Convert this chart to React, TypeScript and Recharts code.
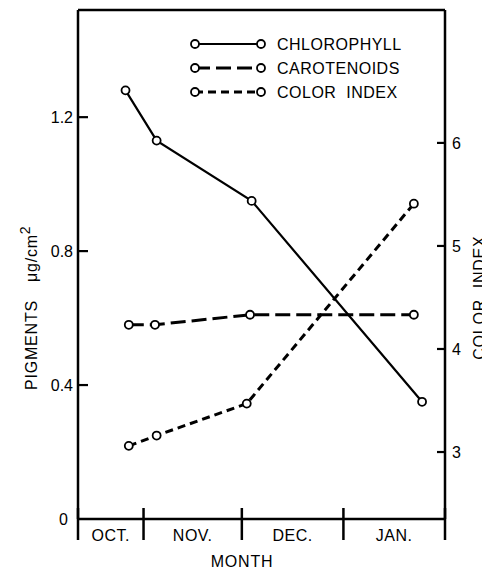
import React from 'react';
import { LineChart, Line, XAxis, YAxis, Legend } from 'recharts';

// x values are days counted from Oct 12 (start of the plotted season)
const monthBoundaries = [0, 20, 50, 81, 112];
const monthCenters = [10, 35, 65.5, 96.5];
const monthLabels = ['OCT.', 'NOV.', 'DEC.', 'JAN.'];

const chlorophyllDays = [14.5, 24, 53, 105];
const chlorophyllValues = [1.28, 1.13, 0.95, 0.35];
const carotenoidDays = [15.5, 23.5, 52.5, 102.5];
const carotenoidValues = [0.58, 0.58, 0.61, 0.61];
const colorIndexDays = [15.5, 24, 51.5, 102.5];
const colorIndexValues = [3.06, 3.16, 3.47, 5.41];

const leftTicks = [0, 0.4, 0.8, 1.2];
const rightTicks = [3, 4, 5, 6];

const seriesNames = ['CHLOROPHYLL', 'CAROTENOIDS', 'COLOR  INDEX'];
const seriesDash = ['none', '15 6', '8 5'];

const FONT = '"Liberation Sans", Arial, sans-serif';

const zip = (xs: number[], ys: number[]) => xs.map((x, i) => ({ x, v: ys[i] }));
const chlorophyllData = zip(chlorophyllDays, chlorophyllValues);
const carotenoidData = zip(carotenoidDays, carotenoidValues);
const colorIndexData = zip(colorIndexDays, colorIndexValues);

const dotStyle = { r: 4, stroke: '#000', strokeWidth: 1.8, fill: '#fff', strokeDasharray: 'none' };

const BoundaryTick = (props: any) => {
  const { x, y } = props;
  return <line x1={x} x2={x} y1={y - 11} y2={y + 21} stroke="#000" strokeWidth={2.5} />;
};

const MonthTick = (props: any) => {
  const { x, y, payload } = props;
  const idx = monthCenters.indexOf(payload.value);
  return (
    <text x={x} y={y + 21} textAnchor="middle" fontFamily={FONT} fontSize={16} letterSpacing={0.5} fill="#000">
      {monthLabels[idx]}
    </text>
  );
};

const LeftTick = (props: any) => {
  const { x, y, payload } = props;
  const v = payload.value;
  return (
    <g>
      {v !== 0 && <line x1={x} x2={x + 10} y1={y} y2={y} stroke="#000" strokeWidth={2.2} />}
      <text x={v === 0 ? x - 10 : x - 5} y={y} dy="0.36em" textAnchor="end" fontFamily={FONT} fontSize={16} fill="#000">
        {v === 0 ? '0' : v.toFixed(1)}
      </text>
    </g>
  );
};

const RightTick = (props: any) => {
  const { x, y, payload } = props;
  return (
    <g>
      <line x1={x - 8} x2={x} y1={y} y2={y} stroke="#000" strokeWidth={2.2} />
      <text x={x + 7} y={y} dy="0.36em" textAnchor="start" fontFamily={FONT} fontSize={16} fill="#000">
        {payload.value}
      </text>
    </g>
  );
};

const LegendBox = () => (
  <svg width={260} height={80} style={{ display: 'block' }}>
    {seriesNames.map((name, i) => {
      const cy = 14 + i * 24;
      return (
        <g key={name}>
          <line x1={15} x2={81} y1={cy} y2={cy} stroke="#000" strokeWidth={i === 0 ? 2.2 : 3}
            strokeDasharray={seriesDash[i]} />
          <circle cx={15} cy={cy} r={4} fill="#fff" stroke="#000" strokeWidth={1.8} />
          <circle cx={81} cy={cy} r={4} fill="#fff" stroke="#000" strokeWidth={1.8} />
          <text x={97} y={cy} dy="0.36em" fontFamily={FONT} fontSize={16} letterSpacing={0.5} fill="#000"
            style={{ whiteSpace: 'pre' }}>
            {name}
          </text>
        </g>
      );
    })}
  </svg>
);

export default function App() {
  return (
    <div style={{ position: 'absolute', left: 0, top: 0, width: 482, height: 571, background: '#fff' }}>
      <LineChart width={482} height={571} margin={{ top: 9, right: 0, bottom: 50, left: 0 }}>
        <XAxis xAxisId="b" type="number" dataKey="x" domain={[0, 112]} allowDataOverflow ticks={monthBoundaries}
          interval={0} height={1} tickSize={0} tickMargin={0} tickLine={false}
          axisLine={{ stroke: '#000', strokeWidth: 2.5 }} tick={<BoundaryTick />} />
        <XAxis xAxisId="m" type="number" dataKey="x" domain={[0, 112]} allowDataOverflow ticks={monthCenters}
          interval={0} height={1} tickSize={0} tickMargin={0} tickLine={false} axisLine={false}
          tick={<MonthTick />}
          label={{
            content: (p: any) => {
              const vb = p.viewBox || { x: 78, y: 519, width: 367 };
              return (
                <text x={vb.x + vb.width * 0.447} y={vb.y + 47} textAnchor="middle" fontFamily={FONT}
                  fontSize={16} letterSpacing={0.8} fill="#000">MONTH</text>
              );
            },
          }} />
        <XAxis xAxisId="t" orientation="top" type="number" dataKey="x" domain={[0, 112]} allowDataOverflow
          height={1} tick={false} tickLine={false} axisLine={{ stroke: '#000', strokeWidth: 2.5 }} />
        <YAxis yAxisId="left" type="number" domain={[0, 1.52]} allowDataOverflow ticks={leftTicks} interval={0}
          width={78} tickSize={0} tickMargin={0} tickLine={false}
          axisLine={{ stroke: '#000', strokeWidth: 2.5 }} tick={<LeftTick />}
          label={{
            content: (p: any) => {
              const vb = p.viewBox || { x: 0, y: 10, width: 78, height: 509 };
              const cx = vb.x + 37;
              const cy = vb.y + vb.height * 0.585;
              return (
                <text x={cx} y={cy} transform={`rotate(-90 ${cx} ${cy})`} textAnchor="middle" fontFamily={FONT}
                  fontSize={16} letterSpacing={0.8} fill="#000">
                  <tspan>PIGMENTS</tspan>
                  <tspan dx={18}>μg/cm</tspan>
                  <tspan dy={-7} fontSize={14}>2</tspan>
                </text>
              );
            },
          }} />
        <YAxis yAxisId="right" orientation="right" type="number" domain={[2.35, 7.29]} allowDataOverflow
          ticks={rightTicks} interval={0} width={37} tickSize={0} tickMargin={0} tickLine={false}
          axisLine={{ stroke: '#000', strokeWidth: 2.5 }} tick={<RightTick />}
          label={{
            content: (p: any) => {
              const vb = p.viewBox || { x: 445, y: 10, width: 37, height: 509 };
              const cx = vb.x + 40;
              const cy = vb.y + vb.height * 0.565;
              return (
                <text x={cx} y={cy} transform={`rotate(-90 ${cx} ${cy})`} textAnchor="middle" fontFamily={FONT}
                  fontSize={16} letterSpacing={0.8} fill="#000" style={{ whiteSpace: 'pre' }}>
                  COLOR  INDEX
                </text>
              );
            },
          }} />
        <Legend layout="horizontal" verticalAlign="middle" align="center" content={() => <LegendBox />}
          wrapperStyle={{ position: 'absolute', top: 30, left: 180, width: 260, height: 80 }} />
        <Line data={chlorophyllData} dataKey="v" xAxisId="b" yAxisId="left" type="linear" stroke="#000"
          strokeWidth={2.2} dot={dotStyle} activeDot={false} isAnimationActive={false} />
        <Line data={carotenoidData} dataKey="v" xAxisId="b" yAxisId="left" type="linear" stroke="#000"
          strokeWidth={3} strokeDasharray="15 6" dot={dotStyle} activeDot={false} isAnimationActive={false} />
        <Line data={colorIndexData} dataKey="v" xAxisId="b" yAxisId="right" type="linear" stroke="#000"
          strokeWidth={3} strokeDasharray="8 5" dot={dotStyle} activeDot={false} isAnimationActive={false} />
      </LineChart>
    </div>
  );
}
